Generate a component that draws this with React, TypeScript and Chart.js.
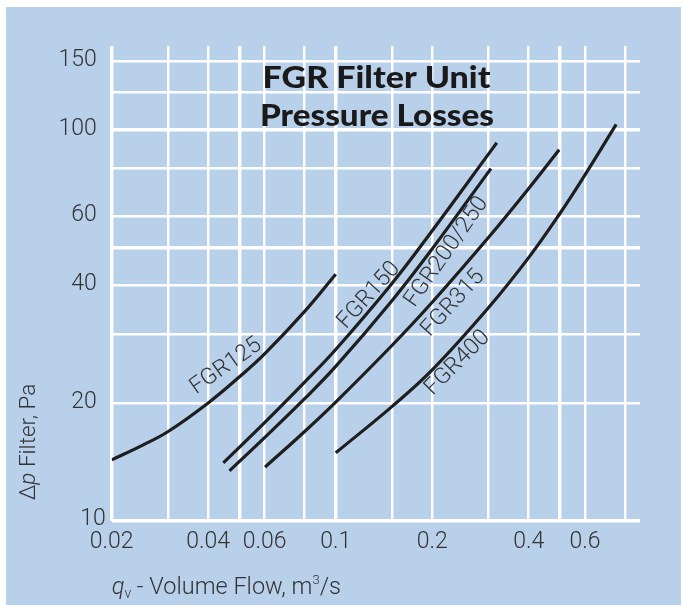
import React, { useEffect, useRef } from 'react';
import { Chart, registerables } from 'chart.js';

Chart.register(...registerables);

// ---- axes / grid ----
const X_GRID = [0.02, 0.03, 0.04, 0.05, 0.06, 0.08, 0.1, 0.15, 0.2, 0.3, 0.4, 0.5, 0.6, 0.8];
const Y_GRID = [10, 20, 30, 40, 50, 60, 80, 100, 125, 150];
const X_TICK_LABELS = [0.02, 0.04, 0.06, 0.1, 0.2, 0.4, 0.6];
const Y_TICK_LABELS = [10, 20, 40, 60, 100, 150];
const X_THICK = [0.02, 0.05, 0.1, 0.5];
const Y_THICK = [10, 50, 100];
const X_MIN = 0.02;
const X_MAX = 0.89;
const Y_MIN = 10;
const Y_MAX = 164;

// ---- series (q in m3/s, dp in Pa) ----
const SERIES_NAMES = ['FGR125', 'FGR150', 'FGR200/250', 'FGR315', 'FGR400'];
const FGR125_Q = [0.02, 0.025, 0.03, 0.04, 0.05, 0.06, 0.08, 0.1];
const FGR125_DP = [14.3, 15.6, 16.9, 20.0, 23.3, 26.7, 34.3, 42.7];
const FGR150_Q = [0.0446, 0.06, 0.08, 0.1, 0.15, 0.2, 0.3, 0.318];
const FGR150_DP = [14.05, 17.8, 22.6, 27.4, 40.5, 55.2, 86.8, 92.7];
const FGR200_Q = [0.0466, 0.06, 0.08, 0.1, 0.15, 0.2, 0.305];
const FGR200_DP = [13.4, 16.3, 20.5, 24.8, 36.6, 49.6, 79.6];
const FGR315_Q = [0.0602, 0.08, 0.1, 0.15, 0.2, 0.3, 0.4, 0.498];
const FGR315_DP = [13.7, 16.9, 20.1, 28.1, 36.2, 53.1, 70.8, 89.0];
const FGR400_Q = [0.1, 0.15, 0.2, 0.3, 0.4, 0.5, 0.6, 0.75];
const FGR400_DP = [14.9, 19.6, 24.3, 35.1, 47.1, 61.0, 76.8, 103.3];

const SERIES_Q = [FGR125_Q, FGR150_Q, FGR200_Q, FGR315_Q, FGR400_Q];
const SERIES_DP = [FGR125_DP, FGR150_DP, FGR200_DP, FGR315_DP, FGR400_DP];

// curve label anchors in data space (q, dp) and rotation in degrees
const LABEL_Q = [0.0455, 0.127, 0.222, 0.2324, 0.24];
const LABEL_DP = [24.8, 37.7, 48.7, 36.0, 25.3];
const LABEL_ANGLE = [-35, -48, -55, -47.5, -45];

const TITLE_LINES = ['FGR Filter Unit', 'Pressure Losses'];

const BG = '#b9d0ea';
const INK = '#1e1e1e';
const TXT = '#333333';
const FONT = 'Roboto, "Liberation Sans", sans-serif';

type Run = { text: string; font: string; dy?: number };

function drawRuns(ctx: CanvasRenderingContext2D, runs: Run[], x: number, y: number, align: 'left' | 'center') {
  let total = 0;
  runs.forEach((r) => {
    ctx.font = r.font;
    total += ctx.measureText(r.text).width;
  });
  let cx = align === 'center' ? x - total / 2 : x;
  ctx.textAlign = 'left';
  runs.forEach((r) => {
    ctx.font = r.font;
    ctx.fillText(r.text, cx, y + (r.dy || 0));
    cx += ctx.measureText(r.text).width;
  });
}

function fitText(ctx: CanvasRenderingContext2D, text: string, cx: number, y: number, width: number) {
  const w = ctx.measureText(text).width;
  const sx = width / w;
  ctx.save();
  ctx.translate(cx, y);
  ctx.scale(sx, 1);
  ctx.textAlign = 'center';
  ctx.fillText(text, 0, 0);
  ctx.restore();
}

const decor = {
  id: 'decor',
  beforeDraw(chart: any) {
    const { ctx, width, height } = chart;
    ctx.save();
    ctx.fillStyle = '#ffffff';
    ctx.fillRect(0, 0, width, height);
    ctx.fillStyle = BG;
    ctx.fillRect(6, 7, 675, 598);
    ctx.restore();
  },
  afterDraw(chart: any) {
    const { ctx, chartArea } = chart;
    const xs = chart.scales.x;
    const ys = chart.scales.y;
    ctx.save();
    ctx.fillStyle = TXT;

    // tick labels
    ctx.font = `300 23px ${FONT}`;
    ctx.textBaseline = 'middle';
    ctx.textAlign = 'right';
    Y_TICK_LABELS.forEach((v) => {
      const extra = v === Y_MIN ? 9 : 0;
      ctx.fillText(String(v), chartArea.left - 15 + extra, ys.getPixelForValue(v) - 1);
    });
    ctx.textAlign = 'center';
    X_TICK_LABELS.forEach((v) => {
      ctx.fillText(String(v), xs.getPixelForValue(v), chartArea.bottom + 22);
    });

    // y axis title
    ctx.save();
    ctx.translate(29, 442);
    ctx.rotate(-Math.PI / 2);
    ctx.textBaseline = 'middle';
    drawRuns(
      ctx,
      [
        { text: 'Δ', font: `300 22.5px ${FONT}` },
        { text: 'p', font: `italic 300 22.5px ${FONT}` },
        { text: ' Filter, Pa', font: `300 22.5px ${FONT}` },
      ],
      0,
      0,
      'center'
    );
    ctx.restore();

    // x axis title
    ctx.textBaseline = 'alphabetic';
    drawRuns(
      ctx,
      [
        { text: 'q', font: `italic 300 23.5px ${FONT}` },
        { text: 'v', font: `300 14px ${FONT}`, dy: 4 },
        { text: ' - Volume Flow, m', font: `300 23.5px ${FONT}` },
        { text: '3', font: `300 13px ${FONT}`, dy: -10 },
        { text: '/s', font: `300 23.5px ${FONT}` },
      ],
      chartArea.left,
      594,
      'left'
    );

    // title
    ctx.fillStyle = '#1a1a1a';
    ctx.font = `900 30px Lato, ${FONT}`;
    fitText(ctx, TITLE_LINES[0], 376.5, 87.5, 228);
    fitText(ctx, TITLE_LINES[1], 377, 126, 234);

    // curve labels
    ctx.fillStyle = TXT;
    ctx.font = `300 23px ${FONT}`;
    ctx.textBaseline = 'middle';
    ctx.textAlign = 'center';
    SERIES_NAMES.forEach((name, i) => {
      ctx.save();
      ctx.translate(xs.getPixelForValue(LABEL_Q[i]), ys.getPixelForValue(LABEL_DP[i]));
      ctx.rotate((LABEL_ANGLE[i] * Math.PI) / 180);
      ctx.fillText(name, 0, 0);
      ctx.restore();
    });

    ctx.restore();
  },
};

export default function App() {
  const ref = useRef<HTMLCanvasElement | null>(null);

  useEffect(() => {
    if (!ref.current) return;
    const datasets = SERIES_NAMES.map((name, i) => ({
      label: name,
      data: SERIES_Q[i].map((q, j) => ({ x: q, y: SERIES_DP[i][j] })),
      borderColor: INK,
      borderWidth: 3.2,
      pointRadius: 0,
      fill: false,
      tension: 0.4,
    }));

    const chart = new Chart(ref.current, {
      type: 'line',
      data: { datasets },
      plugins: [decor],
      options: {
        responsive: false,
        animation: false,
        layout: { padding: { left: 0, top: 46, right: 43, bottom: 0 } },
        plugins: { legend: { display: false }, tooltip: { enabled: false } },
        scales: {
          x: {
            type: 'logarithmic',
            min: X_MIN,
            max: X_MAX,
            afterBuildTicks: (s: any) => {
              s.ticks = X_GRID.map((v) => ({ value: v }));
            },
            afterFit: (s: any) => {
              s.height = 84.5;
            },
            ticks: { display: false },
            border: { display: false },
            grid: {
              color: '#ffffff',
              drawTicks: false,
              lineWidth: (c: any) => (c.tick && X_THICK.includes(c.tick.value) ? 3.4 : 2.4),
            },
          },
          y: {
            type: 'logarithmic',
            min: Y_MIN,
            max: Y_MAX,
            afterBuildTicks: (s: any) => {
              s.ticks = Y_GRID.map((v) => ({ value: v }));
            },
            afterFit: (s: any) => {
              s.width = 111.7;
            },
            ticks: { display: false },
            border: { display: false },
            grid: {
              color: '#ffffff',
              drawTicks: false,
              lineWidth: (c: any) => (c.tick && Y_THICK.includes(c.tick.value) ? 3.4 : 2.4),
            },
          },
        },
      },
    });
    return () => chart.destroy();
  }, []);

  return (
    <div style={{ position: 'absolute', left: 0, top: 0, width: 683, height: 605 }}>
      <canvas ref={ref} width={683} height={605} style={{ display: 'block' }} />
    </div>
  );
}
